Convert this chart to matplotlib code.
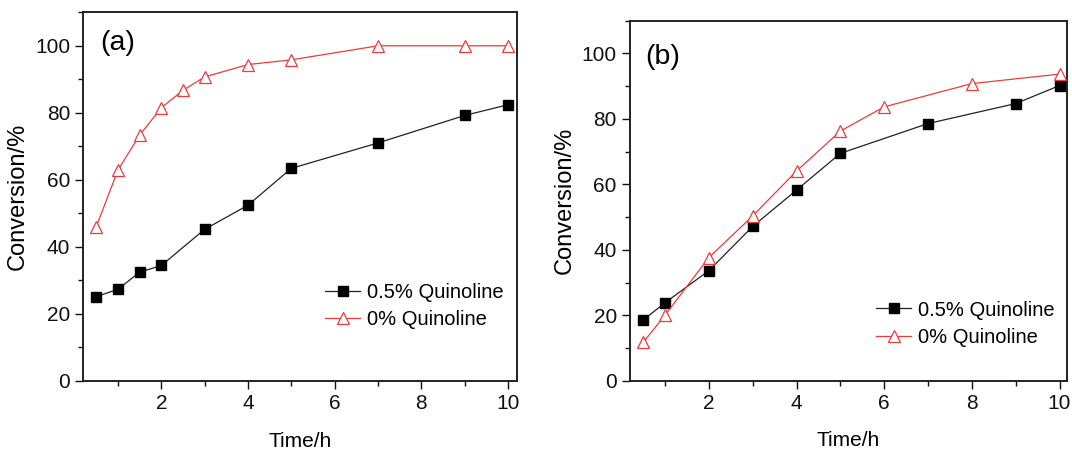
import matplotlib
matplotlib.use('Agg')
import matplotlib.pyplot as plt
from matplotlib.ticker import MultipleLocator

# ---- data ----
time_a_q = [0.5, 1, 1.5, 2, 3, 4, 5, 7, 9, 10]
conv_a_q = [25.1, 27.3, 32.4, 34.4, 45.2, 52.4, 63.4, 71.0, 79.2, 82.4]
time_a_0 = [0.5, 1, 1.5, 2, 2.5, 3, 4, 5, 7, 9, 10]
conv_a_0 = [46.0, 62.9, 73.3, 81.5, 86.7, 90.7, 94.4, 95.8, 100, 100, 100]

time_b_q = [0.5, 1, 2, 3, 4, 5, 7, 9, 10]
conv_b_q = [18.6, 23.9, 33.7, 47.2, 58.3, 69.5, 78.6, 84.7, 90.2]
time_b_0 = [0.5, 1, 2, 3, 4, 5, 6, 8, 10]
conv_b_0 = [11.8, 20.1, 37.7, 50.4, 64.1, 76.3, 83.7, 90.8, 93.7]

labels = ["0.5% Quinoline", "0% Quinoline"]
panel_tags = ["(a)", "(b)"]
x_label = "Time/h"
y_label = "Conversion/%"

plt.rcParams['font.family'] = ['Liberation Sans', 'DejaVu Sans']

W, H = 1072, 453
fig = plt.figure(figsize=(W / 100, H / 100), dpi=100)

def px_axes(l, t, r, b):
    return fig.add_axes([l / W, 1 - b / H, (r - l) / W, (b - t) / H])

ax_a = px_axes(83.3, 12.3, 516.7, 380.7)
ax_b = px_axes(630, 20.7, 1067, 381)

RED = '#F03A3A'
BLK = '#222222'

specs = [
    (ax_a, time_a_q, conv_a_q, time_a_0, conv_a_0, (0.2, 10.2), panel_tags[0],
     (0.040, 0.917), (325, 283)),
    (ax_b, time_b_q, conv_b_q, time_b_0, conv_b_0, (0.2, 10.17), panel_tags[1],
     (0.035, 0.900), (876, 300.5)),
]

for ax, xq, yq, x0, y0, xl, tag, tagpos, legpos in specs:
    ax.plot(xq, yq, color=BLK, lw=0.9, marker='s', ms=7.2,
            mfc='black', mec='black', label=labels[0], zorder=3)
    ax.plot(x0, y0, color=RED, lw=0.9, marker='^', ms=9,
            mfc='white', mec=RED, mew=0.9, label=labels[1], zorder=4)
    ax.set_xlim(*xl)
    ax.set_ylim(0, 110)
    ax.xaxis.set_major_locator(MultipleLocator(2))
    ax.xaxis.set_minor_locator(MultipleLocator(1))
    ax.yaxis.set_major_locator(MultipleLocator(20))
    ax.yaxis.set_minor_locator(MultipleLocator(10))
    ax.set_xticks([2, 4, 6, 8, 10])
    ax.tick_params(which='both', direction='out', top=False, right=False,
                   labelsize=15, colors='#111111', width=1.0)
    ax.tick_params(which='major', length=6, pad=3.5)
    ax.tick_params(which='minor', length=3.5)
    for s in ax.spines.values():
        s.set_linewidth(1.4)
        s.set_color('#222222')
    ax.set_xlabel(x_label, fontsize=15)
    ax.set_ylabel(y_label, fontsize=17)
    ax.yaxis.set_label_coords(-0.125, 0.5)
    ax.xaxis.set_label_coords(0.5, -0.14)
    ax.text(tagpos[0], tagpos[1], tag, transform=ax.transAxes, fontsize=20.5,
            ha='left', va='center')
    ax.legend(loc='upper left', bbox_to_anchor=(legpos[0] / W, 1 - legpos[1] / H),
              bbox_transform=fig.transFigure, frameon=False, fontsize=14.5,
              borderpad=0, borderaxespad=0, handlelength=1.75, handletextpad=0.35,
              labelspacing=0.4)

fig.savefig('out.png', dpi=100)
